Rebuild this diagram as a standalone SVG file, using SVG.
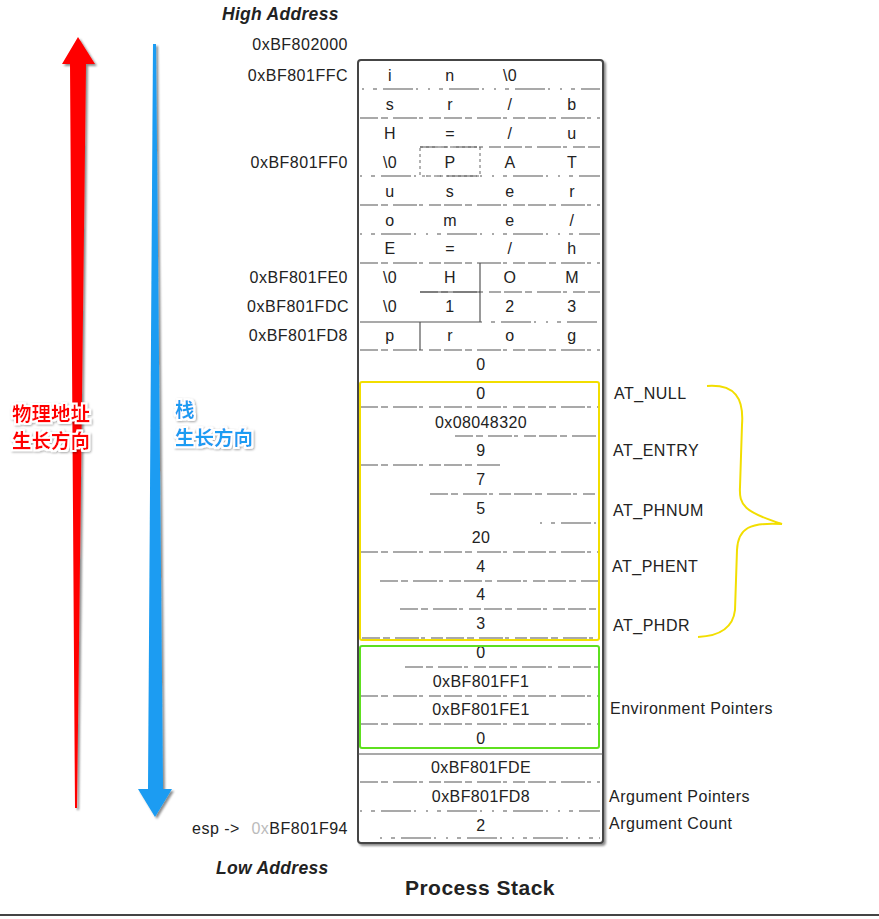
<svg xmlns="http://www.w3.org/2000/svg" width="879" height="919" viewBox="0 0 879 919">
<defs>
<filter id="sh" x="-30%" y="-5%" width="160%" height="110%">
<feDropShadow dx="2" dy="2" stdDeviation="1.2" flood-color="#000" flood-opacity="0.45"/>
</filter>
<filter id="tsh" x="-10%" y="-20%" width="120%" height="140%">
<feMorphology in="SourceAlpha" operator="dilate" radius="1.6" result="d"/>
<feFlood flood-color="#fff"/>
<feComposite in2="d" operator="in" result="w"/>
<feOffset in="d" dx="1" dy="1" result="o"/>
<feGaussianBlur in="o" stdDeviation="1" result="b"/>
<feFlood flood-color="#000" flood-opacity="0.35"/>
<feComposite in2="b" operator="in" result="s"/>
<feMerge><feMergeNode in="s"/><feMergeNode in="w"/><feMergeNode in="SourceGraphic"/></feMerge>
</filter>
</defs>
<style>
text{font-family:"Liberation Sans",Arial,sans-serif;fill:#222;}
.c{font-size:16px;text-anchor:middle;letter-spacing:0.4px;}
.a{font-size:16px;text-anchor:end;letter-spacing:0.5px;}
.r{font-size:16px;letter-spacing:0.5px;}
.hd{font-size:17.5px;font-weight:bold;font-style:italic;letter-spacing:0.3px;}
.ttl{font-size:21px;font-weight:bold;text-anchor:middle;letter-spacing:0.5px;}
.sep{stroke:#555;stroke-width:1.1;fill:none;stroke-dasharray:18 3 7 5 24 2 4 6 12 3;}
.sep2{stroke:#555;stroke-width:1.1;fill:none;stroke-dasharray:2 9 4 6 30 3 2 10;}
.sol{stroke:#555;stroke-width:1.2;fill:none;}
.cn{font-family:"Noto Sans CJK SC",sans-serif;font-weight:bold;font-size:19.5px;}
</style>
<rect width="879" height="919" fill="#fff"/>

<g id="arrow-physical">
<polygon points="78,37 95,64 86,64 77,808 75,808 70,64 62,64" fill="#ff0000" filter="url(#sh)"/>
</g>
<g id="arrow-stack">
<polygon points="153,44 156,44 163,789 172,789 155,817 138,789 148,789" fill="#1a9cf2" filter="url(#sh)"/>
</g>
<g id="label-physical" filter="url(#tsh)">
<text class="cn" x="12" y="421" style="fill:#ff0000">物理地址</text>
<text class="cn" x="12" y="448" style="fill:#ff0000">生长方向</text>
</g>
<g id="label-stack" filter="url(#tsh)">
<text class="cn" x="175" y="417" style="fill:#1a9cf2">栈</text>
<text class="cn" x="175" y="445" style="fill:#1a9cf2">生长方向</text>
</g>

<g id="heading-high"><text class="hd" x="222" y="20">High Address</text></g>
<g id="heading-low"><text class="hd" x="216" y="874">Low Address</text></g>
<g id="title"><text class="ttl" x="480" y="895">Process Stack</text></g>

<g id="addresses">
<text class="a" x="348" y="50">0xBF802000</text>
<text class="a" x="348" y="81">0xBF801FFC</text>
<text class="a" x="348" y="168">0xBF801FF0</text>
<text class="a" x="348" y="283">0xBF801FE0</text>
<text class="a" x="349" y="312">0xBF801FDC</text>
<text class="a" x="348" y="341">0xBF801FD8</text>
<text class="r" x="192" y="834">esp -&gt;</text>
<text class="a" x="348" y="834"><tspan style="fill:#bbb">0x</tspan>BF801F94</text>
</g>

<g id="stack">
<rect x="358" y="60" width="245" height="783" rx="3" fill="#fff" stroke="#444" stroke-width="2" filter="url(#sh)"/>
<g id="separators">
<line class="sep2" x1="362" y1="89" x2="600" y2="89"/>
<line class="sep" x1="360" y1="118" x2="600" y2="118"/>
<line class="sep" x1="420" y1="147" x2="600" y2="147"/>
<line class="sep2" x1="360" y1="176" x2="600" y2="176"/>
<line class="sep" x1="360" y1="205" x2="600" y2="205"/>
<line class="sep2" x1="360" y1="234" x2="600" y2="234"/>
<line class="sep" x1="360" y1="263" x2="600" y2="263"/>
<line class="sep" x1="420" y1="292" x2="600" y2="292"/>
<line class="sol" x1="420" y1="292" x2="480" y2="292"/>
<line class="sol" x1="360" y1="322" x2="480" y2="322"/>
<line class="sep2" x1="480" y1="322" x2="600" y2="322"/>
<line class="sep" x1="360" y1="350" x2="600" y2="350"/>
<line class="sep" x1="360" y1="407" x2="600" y2="407"/>
<line class="sep" x1="455" y1="436" x2="600" y2="436"/>
<line class="sep" x1="360" y1="465" x2="500" y2="465"/>
<line class="sep" x1="430" y1="494" x2="600" y2="494"/>
<line class="sep2" x1="540" y1="523" x2="600" y2="523"/>
<line class="sep" x1="360" y1="552" x2="600" y2="552"/>
<line class="sep" x1="380" y1="581" x2="600" y2="581"/>
<line class="sep" x1="400" y1="609" x2="600" y2="609"/>
<line class="sep" x1="362" y1="638" x2="600" y2="638"/>
<line class="sep" x1="405" y1="667" x2="600" y2="667"/>
<line class="sep" x1="360" y1="696" x2="600" y2="696"/>
<line class="sep" x1="360" y1="724" x2="600" y2="724"/>
<line class="sol" x1="358" y1="754" x2="603" y2="754" stroke-width="1.6"/>
<line class="sep" x1="360" y1="782" x2="600" y2="782"/>
<line class="sep2" x1="360" y1="811" x2="600" y2="811"/>
<line class="sep2" x1="380" y1="838" x2="600" y2="838"/>
<rect x="420" y="147" width="60" height="29" fill="none" stroke="#666" stroke-width="1" stroke-dasharray="3 3"/>
<line class="sol" x1="480" y1="263" x2="480" y2="322"/>
<line class="sol" x1="420" y1="322" x2="420" y2="350"/>
</g>
<g id="row-1"><text class="c" x="390" y="81">i</text><text class="c" x="450" y="81">n</text><text class="c" x="510" y="81">\0</text></g>
<g id="row-2"><text class="c" x="390" y="110">s</text><text class="c" x="450" y="110">r</text><text class="c" x="510" y="110">/</text><text class="c" x="572" y="110">b</text></g>
<g id="row-3"><text class="c" x="390" y="139">H</text><text class="c" x="450" y="139">=</text><text class="c" x="510" y="139">/</text><text class="c" x="572" y="139">u</text></g>
<g id="row-4"><text class="c" x="390" y="168">\0</text><text class="c" x="450" y="168">P</text><text class="c" x="510" y="168">A</text><text class="c" x="572" y="168">T</text></g>
<g id="row-5"><text class="c" x="390" y="197">u</text><text class="c" x="450" y="197">s</text><text class="c" x="510" y="197">e</text><text class="c" x="572" y="197">r</text></g>
<g id="row-6"><text class="c" x="390" y="226">o</text><text class="c" x="450" y="226">m</text><text class="c" x="510" y="226">e</text><text class="c" x="572" y="226">/</text></g>
<g id="row-7"><text class="c" x="390" y="254">E</text><text class="c" x="450" y="254">=</text><text class="c" x="510" y="254">/</text><text class="c" x="572" y="254">h</text></g>
<g id="row-8"><text class="c" x="390" y="283">\0</text><text class="c" x="450" y="283">H</text><text class="c" x="510" y="283">O</text><text class="c" x="572" y="283">M</text></g>
<g id="row-9"><text class="c" x="390" y="312">\0</text><text class="c" x="450" y="312">1</text><text class="c" x="510" y="312">2</text><text class="c" x="572" y="312">3</text></g>
<g id="row-10"><text class="c" x="390" y="341">p</text><text class="c" x="450" y="341">r</text><text class="c" x="510" y="341">o</text><text class="c" x="572" y="341">g</text></g>
<g id="row-11"><text class="c" x="481" y="370">0</text></g>
<g id="row-12"><text class="c" x="481" y="399">0</text></g>
<g id="row-13"><text class="c" x="481" y="428">0x08048320</text></g>
<g id="row-14"><text class="c" x="481" y="456">9</text></g>
<g id="row-15"><text class="c" x="481" y="485">7</text></g>
<g id="row-16"><text class="c" x="481" y="514">5</text></g>
<g id="row-17"><text class="c" x="481" y="543">20</text></g>
<g id="row-18"><text class="c" x="481" y="572">4</text></g>
<g id="row-19"><text class="c" x="481" y="600">4</text></g>
<g id="row-20"><text class="c" x="481" y="629">3</text></g>
<g id="row-21"><text class="c" x="481" y="658">0</text></g>
<g id="row-22"><text class="c" x="481" y="687">0xBF801FF1</text></g>
<g id="row-23"><text class="c" x="481" y="715">0xBF801FE1</text></g>
<g id="row-24"><text class="c" x="481" y="744">0</text></g>
<g id="row-25"><text class="c" x="481" y="773">0xBF801FDE</text></g>
<g id="row-26"><text class="c" x="481" y="802">0xBF801FD8</text></g>
<g id="row-27"><text class="c" x="481" y="831">2</text></g>
</g>

<g id="aux-box"><rect x="360" y="382" width="239" height="258" rx="2" fill="none" stroke="#f2de00" stroke-width="2"/></g>
<g id="env-box"><rect x="360" y="646" width="239" height="102" rx="2" fill="none" stroke="#5ee01f" stroke-width="2"/></g>

<g id="right-labels">
<text class="r" x="614" y="399">AT_NULL</text>
<text class="r" x="613" y="456">AT_ENTRY</text>
<text class="r" x="613" y="516">AT_PHNUM</text>
<text class="r" x="612" y="572">AT_PHENT</text>
<text class="r" x="613" y="631">AT_PHDR</text>
<text class="r" x="610" y="714">Environment Pointers</text>
<text class="r" x="609" y="802">Argument Pointers</text>
<text class="r" x="609" y="829">Argument Count</text>
</g>

<g id="connectors">
<path d="M707,386 C735,384 744,398 742,425 L740,487 C739,505 744,512 782,524 C750,522 738,528 737,550 L735,610 C733,628 720,636 698,637" fill="none" stroke="#f2de00" stroke-width="2"/>
</g>

<g id="baseline">
<line x1="0" y1="915" x2="879" y2="915" stroke="#444" stroke-width="2"/>
</g>
</svg>
